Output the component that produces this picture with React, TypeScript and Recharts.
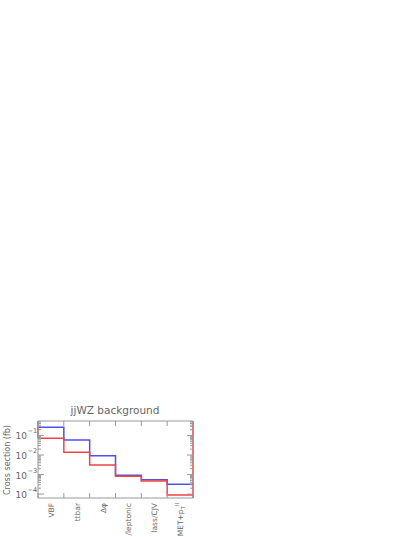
import * as React from 'react';
import { LineChart, Line, XAxis, YAxis, ReferenceLine } from 'recharts';

const categories = ['VBF', 'ttbar', 'Δφ', '/leptonic', 'lass/CJV', 'MET+p_T^ll'];
const blueValues = [0.26, 0.059, 0.0092, 0.00093, 0.00054, 0.00032];
const redValues = [0.072, 0.0138, 0.0031, 0.00081, 0.00047, 0.000089];
const decades = [-4, -3, -2, -1];

const Y_MIN = Math.pow(10, -4.2);
const Y_MAX = Math.pow(10, -0.26);
const PLOT_W = 155;
const PLOT_H = 77;
const GRAY = '#999';
const TEXT = '#666';
const FONT = 'DejaVu Sans';

// step histogram: one point per bin edge, last bin repeated to close the step
const data = categories.map((c, i) => ({ x: i, blue: blueValues[i], red: redValues[i] }));
data.push({ x: categories.length, blue: blueValues[blueValues.length - 1], red: redValues[redValues.length - 1] });

const yTicks: number[] = [];
decades.forEach((d) => {
  for (let m = 1; m <= 9; m++) {
    const v = m * Math.pow(10, d);
    if (v >= Y_MIN && v <= Y_MAX) yTicks.push(v);
  }
});
for (let m = 2; m <= 9; m++) if (m * 0.1 <= Y_MAX) yTicks.push(m * 0.1);

const xTicks: number[] = [];
for (let i = 0; i <= categories.length * 2; i++) xTicks.push(i / 2);

const YTick = (props: any) => {
  const { x, y, payload } = props;
  const v = payload.value;
  const exp = Math.round(Math.log10(v));
  const major = Math.abs(Math.log10(v) - exp) < 1e-6;
  const len = major ? 6 : 3;
  return (
    <g>
      <line x1={x} x2={x + len} y1={y} y2={y} stroke={GRAY} strokeWidth={1} />
      <line x1={x + PLOT_W - len} x2={x + PLOT_W} y1={y} y2={y} stroke={GRAY} strokeWidth={1} />
      {major && (
        <text x={x - 11} y={y + 4} textAnchor="end" fontSize={9} fill={TEXT} fontFamily={FONT}>
          10
        </text>
      )}
      {major && (
        <text x={x - 10.5} y={y - 2} textAnchor="start" fontSize={6.5} fill={TEXT} fontFamily={FONT}>
          {'\u2212' + Math.abs(exp)}
        </text>
      )}
    </g>
  );
};

const XTick = (props: any) => {
  const { x, y, payload } = props;
  const v = payload.value;
  if (Number.isInteger(v)) {
    return (
      <g>
        <line x1={x} x2={x} y1={y} y2={y - 5} stroke={GRAY} strokeWidth={1} />
        <line x1={x} x2={x} y1={y - PLOT_H} y2={y - PLOT_H + 5} stroke={GRAY} strokeWidth={1} />
      </g>
    );
  }
  const label = categories[Math.floor(v)];
  const tx = x + 3;
  const ty = y + 5;
  if (label === 'MET+p_T^ll') {
    return (
      <text x={tx} y={ty} transform={`rotate(-90 ${tx} ${ty})`} textAnchor="end" fontSize={7.5} fill={TEXT} fontFamily={FONT}>
        MET+p
        <tspan fontSize={5.5} dy={2}>T</tspan>
        <tspan fontSize={5.5} dy={-6}>ll</tspan>
      </text>
    );
  }
  return (
    <text x={tx} y={ty} transform={`rotate(-90 ${tx} ${ty})`} textAnchor="end" fontSize={7.5} fill={TEXT} fontFamily={FONT}>
      {label}
    </text>
  );
};

const App = () => {
  return (
    <div style={{ position: 'absolute', left: 0, top: 0, width: 415, height: 537, background: '#fff' }}>
      <LineChart width={415} height={537} data={data} margin={{ top: 421, right: 222, bottom: 0, left: 8 }}>
        <XAxis
          dataKey="x"
          type="number"
          domain={[0, categories.length]}
          ticks={xTicks}
          interval={0}
          tick={<XTick />}
          tickLine={false}
          tickSize={0}
          tickMargin={0}
          axisLine={{ stroke: GRAY }}
          height={39}
        />
        <YAxis
          scale="log"
          domain={[Y_MIN, Y_MAX]}
          allowDataOverflow
          ticks={yTicks}
          interval={0}
          tick={<YTick />}
          tickLine={false}
          tickSize={0}
          tickMargin={0}
          axisLine={{ stroke: GRAY }}
          width={30}
        />
        <ReferenceLine y={Y_MAX} stroke={GRAY} ifOverflow="extendDomain" />
        <ReferenceLine x={categories.length} stroke="#ee4444" strokeWidth={1.5} />
        <ReferenceLine
          segment={[{ x: 0, y: redValues[0] }, { x: 0, y: Y_MAX }]}
          stroke="#ee4444"
          strokeWidth={1.5}
        />
        <Line dataKey="blue" type="stepAfter" stroke="#5050ee" strokeWidth={1.5} dot={false} isAnimationActive={false} />
        <Line dataKey="red" type="stepAfter" stroke="#ee4444" strokeWidth={1.5} dot={false} isAnimationActive={false} />
        <text x={115} y={414} textAnchor="middle" fontSize={10.5} fill={TEXT} fontFamily={FONT}>
          jjWZ background
        </text>
        <text
          x={10}
          y={460}
          transform="rotate(-90 10 460)"
          textAnchor="middle"
          fontSize={8}
          fill={TEXT}
          fontFamily={FONT}
        >
          Cross section (fb)
        </text>
      </LineChart>
    </div>
  );
};

export default App;
